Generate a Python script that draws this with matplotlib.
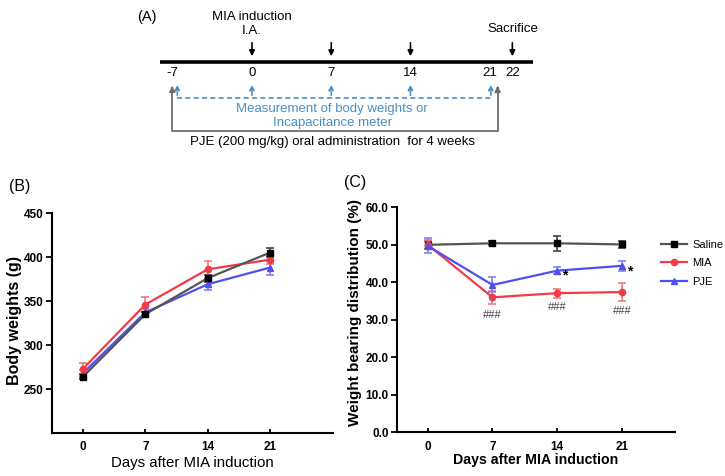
import numpy as np
import matplotlib.pyplot as plt

plt.rcParams['font.family'] = ['Liberation Sans', 'DejaVu Sans']

days = [0, 7, 14, 21]

# (B) body weights (g)
bw_saline = [264, 335, 376, 405]
bw_saline_err = [3, 3, 4, 5]
bw_mia = [273, 346, 386, 397]
bw_mia_err = [7, 9, 10, 5]
bw_pje = [268, 337, 369, 388]
bw_pje_err = [4, 4, 6, 8]

# (C) weight bearing distribution (%)
wb_saline = [50.0, 50.4, 50.4, 50.1]
wb_saline_err = [1.0, 0.5, 2.0, 1.0]
wb_mia = [50.0, 36.0, 37.1, 37.4]
wb_mia_err = [1.2, 1.7, 1.2, 2.5]
wb_pje = [49.7, 39.3, 43.1, 44.4]
wb_pje_err = [2.0, 2.0, 1.0, 1.3]
hash_y = [31.4, 33.4, 32.3]
star_days = [14, 21]
star_y = [41.7, 43.0]

# (A) schedule
tl_days = [-7, 0, 7, 14, 21, 22]
dose_days = [0, 7, 14, 22]
meas_days = [-7, 0, 7, 14, 21]

c_sal = '#555555'
c_mia = '#f03c48'
c_pje = '#5050f0'
c_blue = '#4a8ec6'
c_grey = '#6e6e6e'

fig = plt.figure(figsize=(7.25, 4.76), dpi=100)

# ---- panel A: timeline (x in days, y in pixels from the top) ----
axA = fig.add_axes([0, 0, 1, 1])
px_day = 11.32
x0 = 252
axA.set_xlim(-x0 / px_day, (725 - x0) / px_day)
axA.set_ylim(476, 0)
axA.axis('off')


def tl_x(d):
    # day 22 is drawn with a little gap after 21
    return d + 1.0 if d == 22 else d


axA.plot([-8.13, 24.82], [62, 62], color='black', lw=2.6, solid_capstyle='butt')
for d in tl_days:
    axA.text(tl_x(d), 73, str(d), ha='center', va='center', fontsize=9.5)
for d in dose_days:
    axA.annotate('', xy=(tl_x(d), 59), xytext=(tl_x(d), 40),
                 arrowprops=dict(arrowstyle='-|>', color='black', lw=1.2, mutation_scale=8))
axA.text(0, 17, 'MIA induction', ha='center', va='center', fontsize=9.5)
axA.text(0, 31, 'I.A.', ha='center', va='center', fontsize=9.5)
axA.text(tl_x(22), 29, 'Sacrifice', ha='center', va='center', fontsize=9.5)
axA.text(-9.3, 17, '(A)', ha='center', va='center', fontsize=10.5)

# blue dashed measurement line
mx = [d + (0.4 if d == -7 else (0.1 if d == 21 else 0)) for d in meas_days]
axA.plot([mx[0], mx[-1]], [98, 98], color=c_blue, lw=1.2, ls=(0, (3, 2)))
for d in mx:
    axA.annotate('', xy=(d, 82), xytext=(d, 98),
                 arrowprops=dict(arrowstyle='-|>', color=c_blue, lw=1.2, ls=(0, (2, 1.5)),
                                 mutation_scale=7))
axA.text(7.07, 109, 'Measurement of body weights or', ha='center', va='center',
         fontsize=9.5, color=c_blue)
axA.text(7.07, 123, 'Incapacitance meter', ha='center', va='center',
         fontsize=9.5, color=c_blue)

# grey administration bracket
gx = [-7.05, 21.7]
axA.plot([gx[0], gx[0], gx[1], gx[1]], [88, 131, 131, 88], color=c_grey, lw=1.3)
for d in gx:
    axA.annotate('', xy=(d, 83), xytext=(d, 92),
                 arrowprops=dict(arrowstyle='-|>', color=c_grey, lw=1.3, mutation_scale=8))
axA.text(7.15, 142, 'PJE (200 mg/kg) oral administration  for 4 weeks',
         ha='center', va='center', fontsize=9.5)

fig.text(9 / 725, 1 - 187 / 476, '(B)', fontsize=11.5, va='center')
fig.text(344 / 725, 1 - 182 / 476, '(C)', fontsize=11.5, va='center')


def style(ax):
    for s in ['top', 'right']:
        ax.spines[s].set_visible(False)
    for s in ['left', 'bottom']:
        ax.spines[s].set_linewidth(1.5)
    ax.tick_params(axis='y', direction='out', width=1.3, length=4, labelsize=8.5, pad=2)
    ax.tick_params(axis='x', direction='in', width=1.3, length=3, labelsize=8.5, pad=6)
    for lab in ax.get_xticklabels() + ax.get_yticklabels():
        lab.set_fontweight('bold')


def series(ax, y, err, color, ecolor, marker, ms, label, mc=None):
    eb = ax.errorbar(days, y, yerr=err, color=color, ecolor=ecolor, elinewidth=1.2,
                     capsize=3, capthick=1.2, lw=1.6, marker=marker, ms=ms,
                     mfc=mc or color, mec=mc or color, label=label)
    return eb[0]


# ---- panel B ----
axB = fig.add_axes([52 / 725, 43 / 476, 281 / 725, 220 / 476])
series(axB, bw_pje, bw_pje_err, c_pje, '#8080f0', '^', 4.5, 'PJE')
series(axB, bw_mia, bw_mia_err, c_mia, '#f07880', 'o', 4.5, 'MIA')
series(axB, bw_saline, bw_saline_err, c_sal, '#444444', 's', 5, 'Saline', mc='black')
axB.set_xlim(-3.48, 28.07)
axB.set_ylim(200, 450)
axB.set_yticks([250, 300, 350, 400, 450])
axB.set_xticks(days)
axB.set_ylabel('Body weights (g)', fontsize=11.5, fontweight='bold')
axB.set_xlabel('Days after MIA induction', fontsize=10.8)
axB.yaxis.set_label_coords(-0.107, 0.51)
axB.xaxis.set_label_coords(0.5, -0.105)
style(axB)

# ---- panel C ----
axC = fig.add_axes([397 / 725, 43.7 / 476, 278 / 725, 225 / 476])
l1 = series(axC, wb_saline, wb_saline_err, c_sal, '#444444', 's', 5, 'Saline', mc='black')
l2 = series(axC, wb_mia, wb_mia_err, c_mia, '#f07880', 'o', 4.5, 'MIA')
l3 = series(axC, wb_pje, wb_pje_err, c_pje, '#8080f0', '^', 4.5, 'PJE')
axC.set_xlim(-3.32, 26.73)
axC.set_ylim(0, 60)
axC.set_yticks(np.arange(0, 61, 10))
axC.set_yticklabels(['%.1f' % v for v in np.arange(0, 61, 10)])
axC.set_xticks(days)
axC.set_ylabel('Weight bearing distribution (%)', fontsize=11, fontweight='bold')
axC.set_xlabel('Days after MIA induction', fontsize=10.2, fontweight='bold')
axC.yaxis.set_label_coords(-0.126, 0.532)
axC.xaxis.set_label_coords(0.5, -0.093)
style(axC)
for d, y in zip(days[1:], hash_y):
    axC.text(d, y, '###', ha='center', va='center', fontsize=8, color='#444444')
for d, y in zip(star_days, star_y):
    axC.text(d + 0.8, y, '*', ha='center', va='center', fontsize=10, fontweight='bold')

axC.legend([l1, l2, l3], ['Saline', 'MIA', 'PJE'], loc='upper left',
           bbox_to_anchor=(661 / 725, 1 - 240 / 476),
           bbox_transform=fig.transFigure, frameon=False, fontsize=8,
           handlelength=2.3, handletextpad=0.5, labelspacing=0.75, borderpad=0,
           borderaxespad=0)

fig.savefig('out.png', dpi=100)
